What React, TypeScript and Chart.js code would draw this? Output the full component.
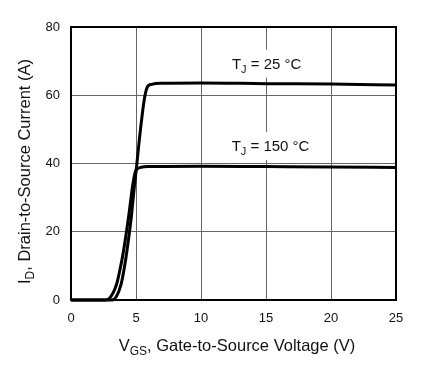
import React, { useEffect, useRef } from "react";
import { Chart, registerables } from "chart.js";

Chart.register(...registerables);

// Gate voltage (V) and drain current (A) for TJ = 25 °C
const vgs25 = [0, 3.0, 3.3, 3.5, 3.7, 3.87, 4.1, 4.31, 4.64, 4.9, 5.0, 5.28, 5.59, 5.75, 5.9, 6.2, 7, 10, 15, 20, 25];
const id25 = [0, 0, 0.2, 1.1, 2.8, 4.9, 9.4, 14.6, 24.4, 34.2, 37.5, 47.8, 57.6, 61.0, 62.6, 63.2, 63.5, 63.6, 63.4, 63.3, 63.0];

// Gate voltage (V) and drain current (A) for TJ = 150 °C
const vgs150 = [0, 2.6, 2.9, 3.1, 3.3, 3.53, 3.8, 4.05, 4.43, 4.77, 4.95, 5.1, 5.4, 6, 10, 15, 20, 25];
const id150 = [0, 0, 0.3, 1.2, 2.6, 4.9, 9.5, 14.6, 24.4, 34.2, 37.6, 38.4, 38.9, 39.1, 39.2, 39.1, 39.0, 38.8];

const xTicks = [0, 5, 10, 15, 20, 25];
const yTicks = [0, 20, 40, 60, 80];

const seriesLabels = ["25 °C", "150 °C"];

const FONT = "'Liberation Sans', Arial, Helvetica, sans-serif";

type Part = [string, boolean];

function partsWidth(ctx: CanvasRenderingContext2D, parts: Part[], size: number, subSize: number) {
  let w = 0;
  for (const [t, sub] of parts) {
    ctx.font = `${sub ? subSize : size}px ${FONT}`;
    w += ctx.measureText(t).width;
  }
  return w;
}

function drawParts(ctx: CanvasRenderingContext2D, parts: Part[], x: number, y: number, size: number, subSize: number, subDrop: number) {
  let cx = x;
  ctx.textAlign = "left";
  ctx.textBaseline = "alphabetic";
  for (const [t, sub] of parts) {
    ctx.font = `${sub ? subSize : size}px ${FONT}`;
    ctx.fillText(t, cx, sub ? y + subDrop : y);
    cx += ctx.measureText(t).width;
  }
}

const annotPlugin = {
  id: "annot",
  beforeDatasetsDraw(chart: any) {
    const ctx: CanvasRenderingContext2D = chart.ctx;
    const xs = chart.scales.x;
    const ys = chart.scales.y;
    const labels: { parts: Part[]; x: number; y: number }[] = [
      { parts: [["T", false], ["J", true], [" = " + seriesLabels[0], false]], x: xs.getPixelForValue(15.05), y: ys.getPixelForValue(67.8) },
      { parts: [["T", false], ["J", true], [" = " + seriesLabels[1], false]], x: xs.getPixelForValue(15.35), y: ys.getPixelForValue(43.7) },
    ];
    ctx.save();
    for (const l of labels) {
      const w = partsWidth(ctx, l.parts, 15, 11);
      const x0 = l.x - w / 2;
      ctx.fillStyle = "#fff";
      ctx.fillRect(x0 - 3, l.y - 19, w + 6, 28);
      ctx.fillStyle = "#111";
      drawParts(ctx, l.parts, x0, l.y, 15, 11, 4);
    }
    ctx.restore();
  },
  afterDraw(chart: any) {
    const ctx: CanvasRenderingContext2D = chart.ctx;
    const a = chart.chartArea;
    ctx.save();
    ctx.strokeStyle = "#000";
    ctx.lineWidth = 2;
    ctx.strokeRect(a.left, a.top, a.right - a.left, a.bottom - a.top);
    ctx.fillStyle = "#111";
    // x title
    const xp: Part[] = [["V", false], ["GS", true], [", Gate-to-Source Voltage (V)", false]];
    const xw = partsWidth(ctx, xp, 16.5, 12);
    const xc = (a.left + a.right) / 2 + 3.5;
    drawParts(ctx, xp, xc - xw / 2, 350.5, 16.5, 12, 4);
    // y title
    const yp: Part[] = [["I", false], ["D", true], [", Drain-to-Source Current (A)", false]];
    const yw = partsWidth(ctx, yp, 16.5, 12);
    const yc = (a.top + a.bottom) / 2 + 8;
    ctx.translate(29.5, yc);
    ctx.rotate(-Math.PI / 2);
    drawParts(ctx, yp, -yw / 2, 0, 16.5, 12, 4);
    ctx.restore();
  },
};

export default function App() {
  const ref = useRef<HTMLCanvasElement | null>(null);
  useEffect(() => {
    document.body.style.margin = "0";
    if (!ref.current) return;
    const tickFont = { size: 13, family: FONT };
    const chart = new Chart(ref.current, {
      type: "line",
      data: {
        datasets: [
          {
            label: seriesLabels[0],
            data: vgs25.map((v, i) => ({ x: v, y: id25[i] })),
            borderColor: "#000",
            borderWidth: 3,
            pointRadius: 0,
            cubicInterpolationMode: "monotone",
            clip: 4,
          },
          {
            label: seriesLabels[1],
            data: vgs150.map((v, i) => ({ x: v, y: id150[i] })),
            borderColor: "#000",
            borderWidth: 3,
            pointRadius: 0,
            cubicInterpolationMode: "monotone",
            clip: 4,
          },
        ],
      },
      options: {
        responsive: false,
        animation: false,
        layout: { padding: { top: 27, right: 30, left: 0, bottom: 0 } },
        plugins: { legend: { display: false }, tooltip: { enabled: false } },
        scales: {
          x: {
            type: "linear",
            min: xTicks[0],
            max: xTicks[xTicks.length - 1],
            afterBuildTicks: (s: any) => {
              s.ticks = xTicks.map((v) => ({ value: v }));
            },
            ticks: { color: "#111", font: tickFont, padding: 11, maxRotation: 0 },
            grid: { color: "#666", lineWidth: 1, drawTicks: false },
            border: { display: false },
            afterFit: (s: any) => {
              s.height = 67;
            },
          },
          y: {
            type: "linear",
            min: yTicks[0],
            max: yTicks[yTicks.length - 1],
            afterBuildTicks: (s: any) => {
              s.ticks = yTicks.map((v) => ({ value: v }));
            },
            ticks: { color: "#111", font: tickFont, padding: 11 },
            grid: { color: "#666", lineWidth: 1, drawTicks: false },
            border: { display: false },
            afterFit: (s: any) => {
              s.width = 71;
            },
          },
        },
      },
      plugins: [annotPlugin],
    } as any);
    return () => chart.destroy();
  }, []);
  return <canvas ref={ref} width={426} height={367} style={{ display: "block" }} />;
}
